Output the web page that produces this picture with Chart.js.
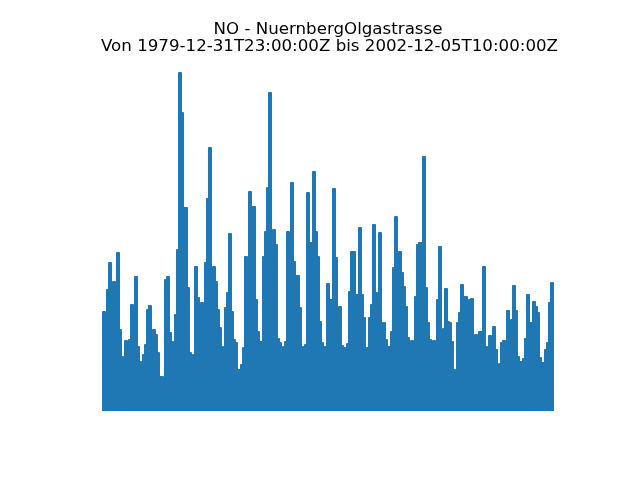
<!DOCTYPE html>
<html>
<head>
<meta charset="utf-8">
<title>NO - NuernbergOlgastrasse</title>
<script src="https://cdn.jsdelivr.net/npm/chart.js@4.4.1/dist/chart.umd.min.js"></script>
<style>
  html, body { margin: 0; padding: 0; background: #fff; }
  #chart { display: block; }
</style>
</head>
<body>
<canvas id="chart" width="640" height="480"></canvas>
<script>
// station + period shown in the title
const station = 'NuernbergOlgastrasse';
const component = 'NO';
const periodStart = '1979-12-31T23:00:00Z';
const periodEnd = '2002-12-05T10:00:00Z';

// upper envelope of the hourly NO series, one value per ~37 days
const noPeaks = [
    232, 392, 380, 480, 588, 480, 512, 248, 628, 320,
    212, 208, 276, 172, 280, 420, 388, 532, 252, 192,
    172, 220, 260, 400, 416, 288, 320, 300, 228, 132,
    132, 88, 520, 532, 308, 272, 268, 380, 640, 1348,
    1188, 808, 808, 488, 228, 212, 220, 572, 448, 280,
    428, 348, 588, 844, 1048, 292, 572, 512, 400, 328,
    252, 216, 408, 468, 704, 392, 280, 268, 160, 160,
    180, 248, 612, 452, 872, 812, 812, 440, 312, 272,
    272, 612, 712, 888, 1268, 640, 720, 660, 284, 268,
    228, 252, 272, 712, 568, 908, 592, 536, 536, 408,
    152, 252, 260, 868, 668, 668, 952, 712, 612, 352,
    268, 212, 252, 504, 440, 440, 884, 608, 332, 412,
    256, 248, 232, 264, 472, 632, 632, 460, 460, 728,
    460, 368, 180, 248, 368, 420, 740, 468, 428, 708,
    280, 348, 280, 252, 252, 312, 568, 772, 420, 632,
    548, 492, 412, 288, 132, 276, 228, 452, 660, 668,
    668, 1012, 488, 348, 280, 160, 276, 228, 440, 652,
    260, 324, 484, 352, 348, 272, 160, 120, 348, 388,
    500, 452, 452, 288, 440, 444, 280, 300, 220, 312,
    312, 572, 252, 192, 296, 240, 332, 240, 180, 184,
    268, 276, 260, 396, 288, 360, 496, 396, 212, 192,
    192, 204, 284, 460, 348, 348, 432, 412, 388, 208,
    188, 188, 240, 268, 428, 508, 192
];

const t0 = Date.parse(periodStart);
const t1 = Date.parse(periodEnd);
const span = t1 - t0;
const stepMs = span / (noPeaks.length - 1);

const points = noPeaks.map((v, i) => ({ x: t0 + i * stepMs, y: v }));

const titlePlugin = {
    id: 'mplTitle',
    afterDraw(chart) {
        const ctx = chart.ctx;
        const cx = (chart.chartArea.left + chart.chartArea.right) / 2;
        ctx.save();
        ctx.fillStyle = '#000';
        ctx.font = "16.67px 'DejaVu Sans'";
        ctx.textAlign = 'center';
        ctx.textBaseline = 'alphabetic';
        ctx.fillText(component + ' - ' + station, cx, 34);
        ctx.fillText('Von ' + periodStart + ' bis ' + periodEnd, cx + 1.5, 50.5);
        ctx.restore();
    }
};

new Chart(document.getElementById('chart'), {
    type: 'line',
    data: {
        datasets: [{
            data: points,
            borderColor: '#1f77b4',
            backgroundColor: '#1f77b4',
            borderWidth: 2,
            borderJoinStyle: 'round',
            pointRadius: 0,
            stepped: 'middle',
            tension: 0,
            fill: { value: -4 }
        }]
    },
    options: {
        responsive: false,
        animation: false,
        devicePixelRatio: 1,
        layout: { padding: { left: 80, right: 64, top: 57.6, bottom: 57.6 } },
        plugins: {
            legend: { display: false },
            tooltip: { enabled: false },
            title: { display: false }
        },
        scales: {
            x: {
                type: 'linear',
                display: false,
                min: t0 - span * 22 / 452,
                max: t1 + span * 22 / 452
            },
            y: {
                type: 'linear',
                display: false,
                min: -49.6,
                max: 1409.6
            }
        }
    },
    plugins: [titlePlugin]
});
</script>
</body>
</html>
